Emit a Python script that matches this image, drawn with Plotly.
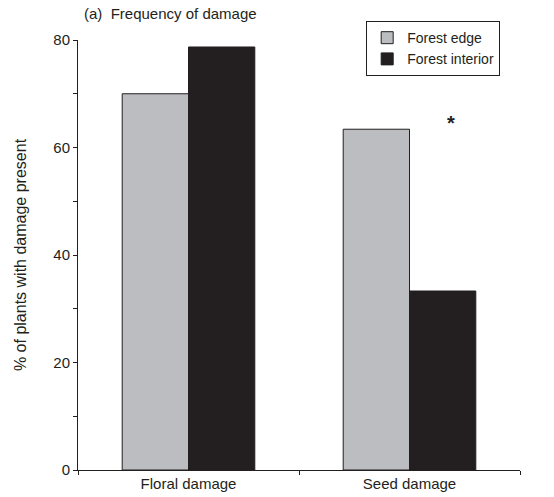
import plotly.graph_objects as go

categories = ["Floral damage", "Seed damage"]
edge_values = [70.0, 63.4]
interior_values = [78.7, 33.3]
series_names = ["Forest edge", "Forest interior"]
y_tickvals = [0, 20, 40, 60, 80]

FONT = "Liberation Sans, Arial, sans-serif"

fig = go.Figure()
fig.add_trace(go.Bar(x=categories, y=edge_values, name=series_names[0],
                     marker=dict(color="#bcbdc0", line=dict(color="#231f20", width=1))))
fig.add_trace(go.Bar(x=categories, y=interior_values, name=series_names[1],
                     marker=dict(color="#231f20", line=dict(color="#231f20", width=1))))

fig.add_annotation(x=categories[1], y=64.5, text="<b>*</b>", showarrow=False,
                   xshift=41, font=dict(size=20, color="#231f20", family=FONT))
fig.add_annotation(x=0.01, y=1.062, xref="paper", yref="paper", xanchor="left",
                   yanchor="middle", text="(a)  Frequency of damage", showarrow=False,
                   font=dict(size=15, color="#231f20", family=FONT))

fig.update_layout(
    width=554, height=497,
    margin=dict(l=78, r=34, t=40, b=27),
    paper_bgcolor="white", plot_bgcolor="white",
    barmode="group", bargap=0.4, bargroupgap=0,
    font=dict(family=FONT, size=15, color="#231f20"),
    showlegend=True,
    legend=dict(x=0.652, y=1.044, xanchor="left", yanchor="top",
                bgcolor="white", bordercolor="#231f20", borderwidth=1,
                font=dict(size=14, color="#231f20"), tracegroupgap=2),
    xaxis=dict(showline=True, linecolor="#231f20", linewidth=1, automargin=False,
               ticks="outside", tickson="boundaries", ticklen=4, tickcolor="#231f20",
               showgrid=False, zeroline=False, tickfont=dict(size=15)),
    yaxis=dict(range=[0, 80], tickvals=y_tickvals, showline=True, linecolor="#231f20",
               linewidth=1, ticks="outside", ticklen=4, tickcolor="#231f20", automargin=False,
               showgrid=False, zeroline=False, tickfont=dict(size=15),
               minor=dict(dtick=10, ticks="outside", ticklen=4, tickcolor="#231f20", showgrid=False),
               title=dict(text="% of plants with damage present", standoff=22,
                          font=dict(size=16))),
)

fig.write_html("out.html")
